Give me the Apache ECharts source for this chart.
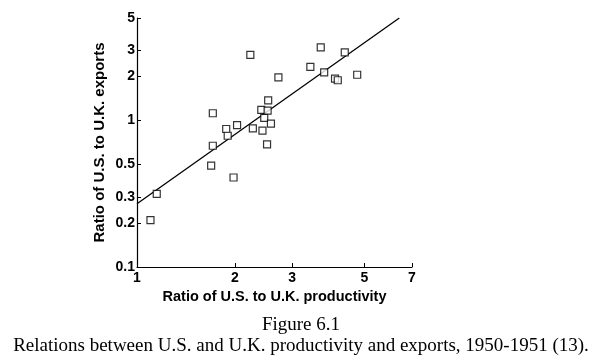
<!DOCTYPE html>
<html><head><meta charset="utf-8">
<script src="https://cdn.jsdelivr.net/npm/echarts@6/dist/echarts.min.js"></script>
<style>html,body{margin:0;padding:0;background:#fff}#c{width:603px;height:364px}</style>
</head><body><div id="c"></div>
<script>
// Productivity ratio (x) and export ratio (y)
const productivity = [1.10, 1.15, 1.69, 1.71, 1.71, 1.88, 1.90, 1.98, 2.03, 2.23, 2.27, 2.41, 2.43, 2.46, 2.51, 2.52, 2.53, 2.58, 2.72, 3.41, 3.67, 3.76, 4.06, 4.14, 4.35, 4.75];
const exportsRatio = [0.209, 0.315, 0.491, 0.672, 1.12, 0.874, 0.786, 0.408, 0.93, 2.80, 0.882, 1.18, 0.851, 1.04, 0.686, 1.165, 1.37, 0.95, 1.97, 2.32, 3.15, 2.13, 1.93, 1.88, 2.91, 2.05];
// Fitted line endpoints
const fitX = [1, 6.4];
const fitY = [0.27, 5.0];
const xTicks = [1, 2, 3, 5, 7];
const yTicks = [0.1, 0.2, 0.3, 0.5, 1, 2, 3, 5];
const captionLines = ['Figure 6.1', 'Relations between U.S. and U.K. productivity and exports, 1950-1951 (13).'];

const chart = echarts.init(document.getElementById('c'));
const bold = {fontFamily: 'Liberation Sans, Arial, sans-serif', fontWeight: 'bold', color: '#000'};
const serif = 'Liberation Serif, Times New Roman, serif';
chart.setOption({
  animation: false,
  backgroundColor: '#fff',
  grid: {left: 137, right: 191, top: 18, bottom: 97},
  graphic: captionLines.map((t, i) => ({
    type: 'text', x: 301, y: 325 + i * 21,
    style: {text: t, fontFamily: serif, fontSize: 19, fill: '#000', align: 'center', verticalAlign: 'middle'}
  })),
  xAxis: {
    type: 'log', logBase: 10, min: 1, max: 7,
    name: 'Ratio of U.S. to U.K. productivity', nameLocation: 'middle', nameGap: 19,
    nameTextStyle: Object.assign({fontSize: 14.5}, bold),
    axisLine: {show: true, lineStyle: {color: '#000', width: 1.2}},
    axisTick: {show: true, inside: true, length: 4, customValues: xTicks, lineStyle: {color: '#000'}},
    axisLabel: Object.assign({fontSize: 14, margin: 4, customValues: xTicks, formatter: v => String(v)}, bold),
    splitLine: {show: false}
  },
  yAxis: {
    type: 'log', logBase: 10, min: 0.1, max: 5,
    name: 'Ratio of U.S. to U.K. exports', nameLocation: 'middle', nameGap: 30, nameRotate: 90,
    nameTextStyle: Object.assign({fontSize: 15}, bold),
    axisLine: {show: true, lineStyle: {color: '#000', width: 1.2}},
    axisTick: {show: true, inside: true, length: 4, customValues: yTicks, lineStyle: {color: '#000'}},
    axisLabel: Object.assign({fontSize: 14, margin: 2, customValues: yTicks, formatter: v => String(v)}, bold),
    splitLine: {show: false}
  },
  series: [
    {
      type: 'line', data: fitX.map((x, i) => [x, fitY[i]]), symbol: 'none',
      lineStyle: {color: '#000', width: 1.3}, z: 1
    },
    {
      type: 'scatter', data: productivity.map((x, i) => [x, exportsRatio[i]]),
      symbol: 'rect', symbolSize: 7,
      itemStyle: {color: '#fff', borderColor: '#000', borderWidth: 1.2}, z: 2
    }
  ]
});
</script></body></html>
